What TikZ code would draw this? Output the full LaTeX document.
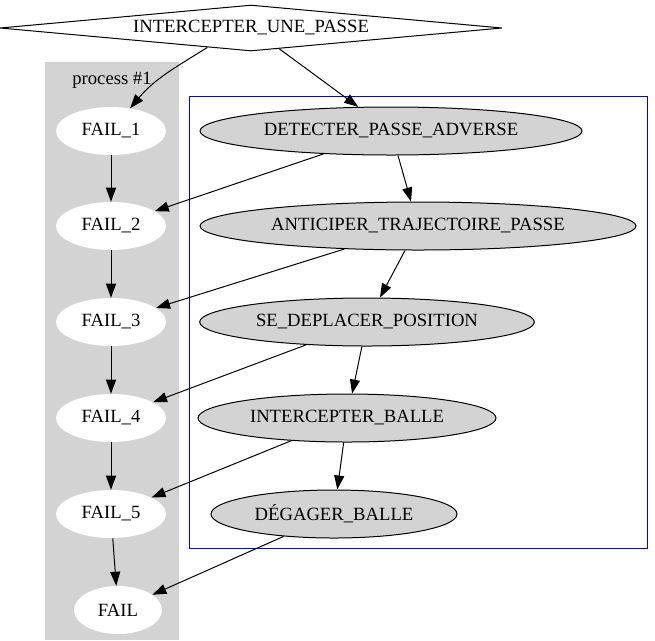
\documentclass[tikz,border=0pt]{standalone}
\usepackage{fontspec}
\setmainfont{Liberation Serif}
\usetikzlibrary{arrows.meta,shapes.geometric}
\definecolor{clustergray}{HTML}{D3D3D3}
\tikzset{
  every node/.style={font=\fontsize{14}{16}\selectfont,text=black},
  arr/.style={-{Triangle[length=10.5pt,width=7.5pt]},line width=.75pt,draw=black},
  failnode/.style={ellipse,fill=white,inner sep=0,minimum width=82.5pt,minimum height=36pt},
  tasknode/.style={ellipse,draw=black,line width=.75pt,fill=clustergray,inner sep=0,minimum height=36pt},
  rootnode/.style={diamond,draw=black,line width=.75pt,fill=white,inner sep=0,aspect=10.9}
}
\begin{document}
\begin{tikzpicture}[x=.75pt,y=-.75pt]
  \path[use as bounding box] (0,0) rectangle (655,640);
  % clusters
  \fill[clustergray] (45,62) rectangle (179,640);
  \draw[blue,line width=.75pt] (189,96) rectangle (647,548);
  \node (proc) at (112,80) {process \#1};

  \node[rootnode,minimum width=376.5pt,minimum height=34.5pt] (root) at (251,28) {INTERCEPTER\_UNE\_PASSE};

  % failure chain
  \foreach \i/\y in {1/131,2/226,3/322,4/418,5/514} {\node[failnode] (f\i) at (111,\y) {FAIL\_\i};}
  \node[failnode,minimum width=66pt] (fail) at (118,610) {FAIL};

  % main sequence
  \node[tasknode,minimum width=286.5pt] (detect) at (391,131) {DETECTER\_PASSE\_ADVERSE};
  \node[tasknode,minimum width=327pt] (anticip) at (418,226) {ANTICIPER\_TRAJECTOIRE\_PASSE};
  \node[tasknode,minimum width=251pt] (deplace) at (367,322) {SE\_DEPLACER\_POSITION};
  \node[tasknode,minimum width=223.5pt] (intercept) at (347,418) {INTERCEPTER\_BALLE};
  \node[tasknode,minimum width=184.5pt] (degage) at (334,514) {DÉGAGER\_BALLE};

  \draw[arr] (root.-156) to[out=-148,in=50] (f1);
  \draw[arr] (root) -- (detect);
  \foreach \a/\b in {f1/f2,f2/f3,f3/f4,f4/f5,f5/fail} {\draw[arr] (\a) -- (\b);}
  \foreach \a/\b in {detect/anticip,anticip/deplace,deplace/intercept,intercept/degage} {\draw[arr] (\a) -- (\b);}
  \foreach \a/\b in {detect/f2,anticip/f3,deplace/f4,intercept/f5,degage/fail} {\draw[arr] (\a) -- (\b);}
\end{tikzpicture}
\end{document}
